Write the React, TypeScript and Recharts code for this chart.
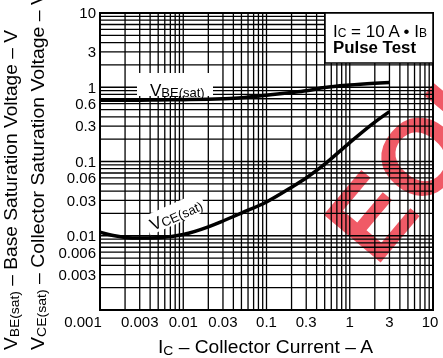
import React from 'react';
import { LineChart, Line, XAxis, YAxis, CartesianGrid } from 'recharts';

// collector current (A) and the two saturation voltages (V)
const current = [0.001, 0.0015, 0.002, 0.003, 0.005, 0.01, 0.02, 0.03, 0.05, 0.1, 0.2, 0.3, 0.5, 1, 2, 3];
const vbeSat = [0.67, 0.67, 0.67, 0.67, 0.675, 0.68, 0.69, 0.7, 0.72, 0.78, 0.85, 0.9, 0.99, 1.07, 1.13, 1.16];
const vceSat = [0.0112, 0.01, 0.0095, 0.0093, 0.0094, 0.0104, 0.0132, 0.0158, 0.0202, 0.0285, 0.045, 0.06, 0.092, 0.18, 0.34, 0.47];

const xTicks = [0.001, 0.003, 0.01, 0.03, 0.1, 0.3, 1, 3, 10];
const yTicks = [0.003, 0.006, 0.01, 0.03, 0.06, 0.1, 0.3, 0.6, 1, 3, 10];

const decades = [0.001, 0.01, 0.1, 1];
const steps = [1, 2, 3, 4, 5, 6, 7, 8, 9];
const gridValues = decades.flatMap(d => steps.map(s => +(d * s).toPrecision(3))).concat([10]);

const data = current.map((ic, i) => ({ ic, vbe: vbeSat[i], vce: vceSat[i] }));

const FONT = '"Liberation Sans", Arial, Helvetica, sans-serif';

function XTick(props: any) {
   const { x, y, payload } = props;
   const v = payload.value;
   const dx = v === 0.001 ? -17 : v === 10 ? -3 : 0;
   return (
      <text x={x + dx} y={y} dy={17} textAnchor="middle" fontSize={15} fontFamily={FONT} fill="#000">
         {String(v)}
      </text>
   );
}

export default function App() {
   return (
      <div style={{ position: 'absolute', left: 0, top: 0, width: 443, height: 358, background: '#fff', isolation: 'isolate' }}>
         <LineChart width={443} height={358} data={data} margin={{ top: 13, right: 10, left: 0, bottom: 8 }}>
            <CartesianGrid
               verticalValues={gridValues}
               horizontalValues={gridValues}
               stroke="#000"
               strokeWidth={1.3}
               fill="#fff"
            />
            <XAxis
               dataKey="ic"
               type="number"
               scale="log"
               domain={[0.001, 10]}
               allowDataOverflow
               ticks={xTicks}
               tick={<XTick />}
               tickLine={false}
               axisLine={false}
               tickSize={0}
               tickMargin={0}
               height={40}
               interval={0}
            />
            <YAxis
               type="number"
               scale="log"
               domain={[0.001, 10]}
               allowDataOverflow
               ticks={yTicks}
               tick={{ fill: '#000', fontSize: 15, fontFamily: FONT }}
               tickFormatter={(v: number) => String(v)}
               tickLine={false}
               axisLine={false}
               tickSize={0}
               tickMargin={4}
               width={100}
               interval={0}
            />
            <Line type="monotone" dataKey="vbe" stroke="#000" strokeWidth={3.5} dot={false} isAnimationActive={false} />
            <Line type="monotone" dataKey="vce" stroke="#000" strokeWidth={3.5} dot={false} isAnimationActive={false} />
         </LineChart>

         {/* watermark, multiplied so black lines stay black */}
         <svg width={443} height={358} style={{ position: 'absolute', left: 0, top: 0, mixBlendMode: 'multiply', pointerEvents: 'none' }}>
            <text x={376} y={268} transform="rotate(-50 376 268)" fontSize={108} fontWeight="bold" fontFamily={FONT} fill="#f05a66">
               EOL
            </text>
         </svg>

         <svg width={443} height={358} style={{ position: 'absolute', left: 0, top: 0, pointerEvents: 'none' }} fontFamily={FONT}>
            <rect x={100} y={13} width={333} height={297} fill="none" stroke="#000" strokeWidth={2} />

            {/* curve labels */}
            <rect x={137} y={73} width={76} height={23} fill="#fff" />
            <text x={150} y={96} fontSize={17} fill="#000">
               V<tspan fontSize={13} dy={1}>BE(sat)</tspan>
            </text>
            <g transform="translate(153 231) rotate(-24)">
               <rect x={-4} y={-17} width={62} height={20} fill="#fff" />
               <text x={0} y={0} fontSize={17} fill="#000">
                  V<tspan fontSize={13} dy={1}>CE(sat)</tspan>
               </text>
            </g>

            {/* condition box */}
            <rect x={325} y={13} width={108} height={50} fill="#fff" stroke="#000" strokeWidth={1.5} />
            <text x={333} y={37} fontSize={17} textLength={94} lengthAdjust="spacingAndGlyphs" fill="#000">
               I<tspan fontSize={12}>C</tspan> = 10 A • I<tspan fontSize={12}>B</tspan>
            </text>
            <text x={333} y={53} fontSize={16} fontWeight="bold" textLength={83} lengthAdjust="spacingAndGlyphs" fill="#000">
               Pulse Test
            </text>

            {/* axis titles */}
            <text x={158} y={353} fontSize={18} textLength={215} lengthAdjust="spacingAndGlyphs" fill="#000">
               I<tspan fontSize={13} dy={2}>C</tspan><tspan dy={-2}> – Collector Current – A</tspan>
            </text>
            <text transform="translate(17 350) rotate(-90)" fontSize={18} textLength={320} lengthAdjust="spacingAndGlyphs" fill="#000">
               V<tspan fontSize={13} dy={2}>BE(sat)</tspan><tspan dy={-2}> – Base Saturation Voltage – V</tspan>
            </text>
            <text transform="translate(44 350) rotate(-90)" fontSize={18} textLength={358} lengthAdjust="spacingAndGlyphs" fill="#000">
               V<tspan fontSize={13} dy={2}>CE(sat)</tspan><tspan dy={-2}> – Collector Saturation Voltage – V</tspan>
            </text>
         </svg>
      </div>
   );
}
